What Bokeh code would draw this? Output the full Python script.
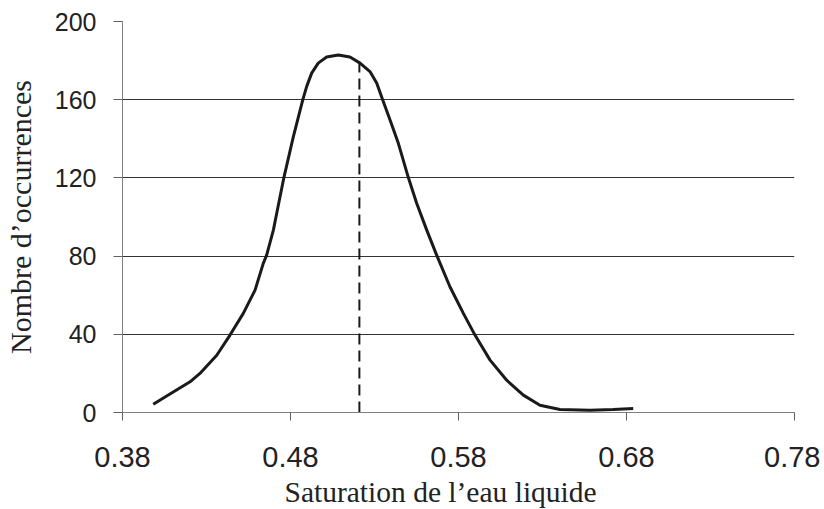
from bokeh.plotting import figure
from bokeh.models import FixedTicker, Range1d, Title
from bokeh.embed import file_html
from bokeh.resources import INLINE

# Data
saturation = [0.3983, 0.4102, 0.4202, 0.4261, 0.4361, 0.4440, 0.4519, 0.4589, 0.4638, 0.4658,
              0.4698, 0.4718, 0.4761, 0.4817, 0.4873, 0.4896, 0.4926, 0.4965, 0.5015, 0.5085,
              0.5154, 0.5214, 0.5273, 0.5313, 0.5349, 0.5392, 0.5442, 0.5501, 0.5551, 0.5611,
              0.5670, 0.5749, 0.5829, 0.5898, 0.5988, 0.6087, 0.6186, 0.6285, 0.6404, 0.6583,
              0.6721, 0.6840]
occurrences = [4.2, 10.5, 15.7, 20.0, 29.3, 39.6, 50.7, 62.6, 76.3, 80.5,
               93.3, 101.9, 120.3, 141.1, 159.9, 166.7, 173.6, 178.7, 181.8, 182.9,
               181.8, 178.7, 174.4, 168.5, 159.9, 149.7, 137.7, 120.3, 107.0, 93.3,
               80.5, 64.3, 50.7, 39.6, 26.8, 16.5, 8.9, 3.7, 1.5, 1.2,
               1.5, 2.0]

mean_saturation = 0.521
mean_occurrences = 178.7

x_ticks = [0.38, 0.48, 0.58, 0.68, 0.78]
x_tick_labels = ["0.38", "0.48", "0.58", "0.68", "0.78"]
y_ticks = [0, 40, 80, 120, 160, 200]

x_title = "Saturation de l\u2019eau liquide"
y_title = "Nombre d\u2019occurrences"

p = figure(frame_width=672, frame_height=391,
           min_border_left=119, min_border_right=26, min_border_top=21, min_border_bottom=60,
           x_range=Range1d(x_ticks[0], x_ticks[-1]), y_range=Range1d(y_ticks[0], y_ticks[-1]),
           output_backend="svg", toolbar_location=None)
p.outline_line_color = None
p.background_fill_color = "white"
p.border_fill_color = "white"

p.xgrid.grid_line_color = None
p.ygrid.grid_line_color = "#333333"
p.ygrid.grid_line_width = 1
p.ygrid.ticker = FixedTicker(ticks=y_ticks)

p.xaxis.ticker = FixedTicker(ticks=x_ticks)
p.xaxis.major_label_overrides = {t: l for t, l in zip(x_ticks, x_tick_labels)}
p.yaxis.ticker = FixedTicker(ticks=y_ticks)

for ax in (p.xaxis, p.yaxis):
    ax.axis_line_color = "#808080"
    ax.axis_line_width = 1
    ax.major_tick_line_color = "#606060"
    ax.major_tick_in = 0
    ax.minor_tick_line_color = None
    ax.major_label_text_font = "Liberation Sans"
    ax.major_label_text_color = "#222222"

p.xaxis.major_tick_out = 8
p.yaxis.major_tick_out = 9
p.xaxis.major_label_text_font_size = "29px"
p.yaxis.major_label_text_font_size = "25px"
p.xaxis.major_label_standoff = 26
p.yaxis.major_label_standoff = 17

p.yaxis.axis_label = y_title
p.yaxis.axis_label_text_font = "Liberation Serif"
p.yaxis.axis_label_text_font_style = "normal"
p.yaxis.axis_label_text_color = "#222222"
p.yaxis.axis_label_text_font_size = "30px"
p.yaxis.axis_label_standoff = 15

p.line(saturation, occurrences, line_color="#1a1a1a", line_width=3, line_join="round")
p.line([mean_saturation, mean_saturation], [0, mean_occurrences],
       line_color="#1a1a1a", line_width=2, line_dash="11 6")

# x-axis title, left of centre as in the reference
p.add_layout(Title(text=x_title, align="left", offset=162, standoff=8,
                   text_font="Liberation Serif", text_font_size="29.5px",
                   text_font_style="normal", text_color="#222222"), "below")

open("out.html", "w").write(file_html(p, INLINE))
